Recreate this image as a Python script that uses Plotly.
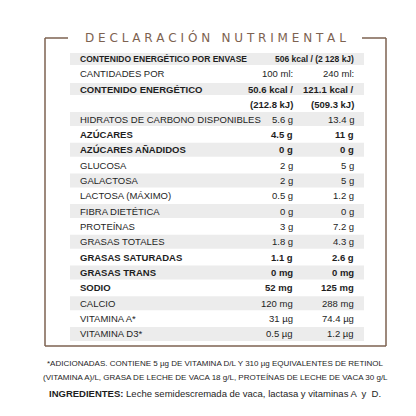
import plotly.graph_objects as go

nutrients = ["HIDRATOS DE CARBONO DISPONIBLES", "AZÚCARES", "AZÚCARES AÑADIDOS", "GLUCOSA",
             "GALACTOSA", "LACTOSA (MÁXIMO)", "FIBRA DIETÉTICA", "PROTEÍNAS", "GRASAS TOTALES",
             "GRASAS SATURADAS", "GRASAS TRANS", "SODIO", "CALCIO", "VITAMINA A*", "VITAMINA D3*"]
per_100 = ["5.6 g", "4.5 g", "0 g", "2 g", "2 g", "0.5 g", "0 g", "3 g", "1.8 g", "1.1 g",
           "0 mg", "52 mg", "120 mg", "31 µg", "0.5 µg"]
per_240 = ["13.4 g", "11 g", "0 g", "5 g", "5 g", "1.2 g", "0 g", "7.2 g", "4.3 g", "2.6 g",
           "0 mg", "125 mg", "288 mg", "74.4 µg", "1.2 µg"]
bold = ["AZÚCARES", "AZÚCARES AÑADIDOS", "GRASAS SATURADAS", "GRASAS TRANS", "SODIO"]

FONT = "Liberation Sans Narrow, Liberation Sans, Arial, sans-serif"
BROWN = "#7d6250"
GRAY = "#ececec"
INK = "#1e1e1e"

shapes = []
ann = []

def b(s, on):
    return "<b>%s</b>" % s if on else s

def band(yc, h=12):
    shapes.append(dict(type="rect", x0=62, x1=356, y0=yc - h / 2, y1=yc + h / 2,
                       fillcolor=GRAY, line_width=0, layer="below"))

def row(y, label, v1, v2, is_bold, size=9.5):
    f = dict(family=FONT, size=size, color=INK)
    ann.append(dict(x=70, y=y, text=b(label, is_bold), xanchor="left", font=f))
    if v1:
        ann.append(dict(x=287, y=y, text=b(v1, is_bold), xanchor="right", font=f))
    if v2:
        ann.append(dict(x=348, y=y, text=b(v2, is_bold), xanchor="right", font=f))

# header rows
band(51)
row(51, "CONTENIDO ENERGÉTICO POR ENVASE", None, "506 kcal / (2 128 kJ)", True, 8.5)
row(65, "CANTIDADES POR", "100 ml:", "240 ml:", False)
band(81)
row(81, "CONTENIDO ENERGÉTICO", "50.6 kcal /", "121.1 kcal /", True)
row(96, "", "(212.8 kJ)", "(509.3 kJ)", True)

y0, step = 111, 15.35
for i, name in enumerate(nutrients):
    y = y0 + i * step
    if i % 2 == 0:
        band(y, 14)
    row(y, name, per_100[i], per_240[i], name in bold)

for a in ann:
    a.update(xref="x", yref="y", showarrow=False, yanchor="middle")

# frame
line = dict(color=BROWN, width=1.5)
shapes += [
    dict(type="line", x0=37, x1=37, y0=30, y1=338, line=line),
    dict(type="line", x0=378, x1=378, y0=30, y1=338, line=line),
    dict(type="line", x0=37, x1=378, y0=338, y1=338, line=line),
    dict(type="line", x0=37, x1=60, y0=30, y1=30, line=line),
    dict(type="line", x0=354, x1=378, y0=30, y1=30, line=line),
]
ann.append(dict(x=207, y=29, xref="x", yref="y", showarrow=False,
                text="D E C L A R A C I Ó N   N U T R I M E N T A L",
                font=dict(family="DejaVu Sans", size=12, color=BROWN)))

foot = dict(family=FONT, size=8, color=INK)
ann += [
    dict(x=207, y=355, xref="x", yref="y", showarrow=False, font=foot,
         text="*ADICIONADAS. CONTIENE 5 µg DE VITAMINA D/L Y 310 µg EQUIVALENTES DE RETINOL"),
    dict(x=207, y=369, xref="x", yref="y", showarrow=False, font=foot,
         text="(VITAMINA A)/L, GRASA DE LECHE DE VACA 18 g/L, PROTEÍNAS DE LECHE DE VACA 30 g/L"),
    dict(x=207, y=385, xref="x", yref="y", showarrow=False, font=dict(family=FONT, size=9.5, color=INK),
         text="<b>INGREDIENTES:</b> Leche semidescremada de vaca, lactasa y vitaminas A  y  D."),
]

fig = go.Figure()
fig.update_layout(
    width=416, height=416, margin=dict(l=0, r=0, t=0, b=0),
    paper_bgcolor="white", plot_bgcolor="white", showlegend=False,
    xaxis=dict(range=[0, 416], visible=False, fixedrange=True),
    yaxis=dict(range=[416, 0], visible=False, fixedrange=True),
    shapes=shapes, annotations=ann,
)
fig.write_html("out.html")
